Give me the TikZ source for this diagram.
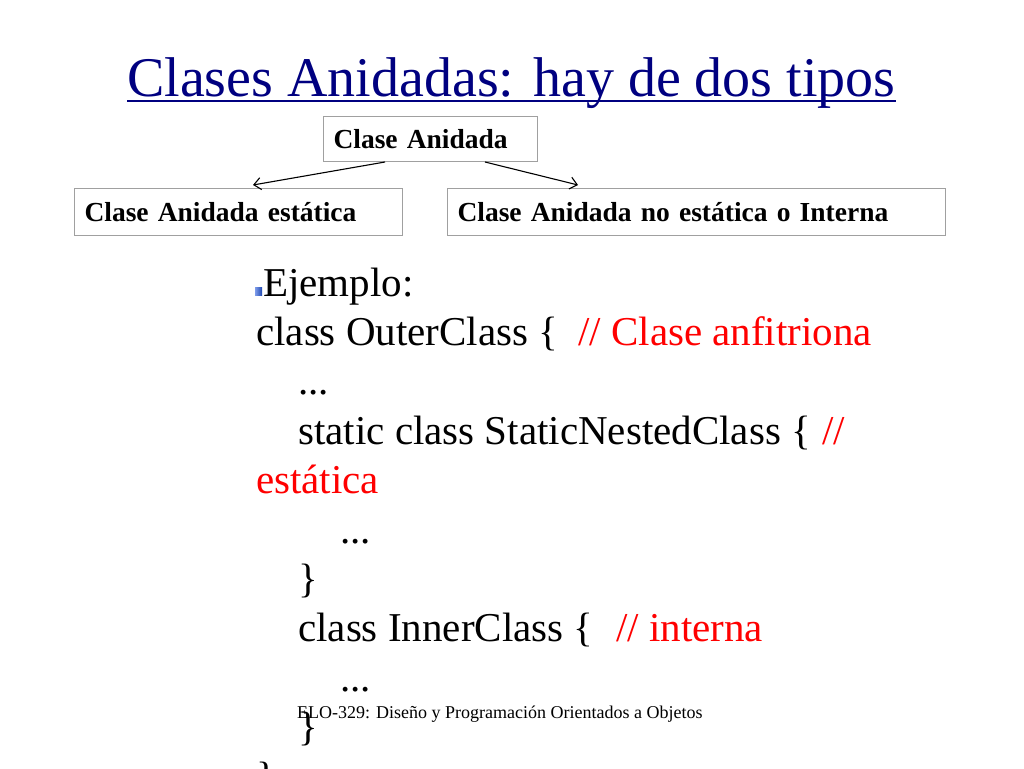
\documentclass[tikz,border=0pt]{standalone}
\usepackage{fontspec}
\setmainfont{Liberation Serif}
\usetikzlibrary{arrows.meta}
\definecolor{titleblue}{RGB}{0,0,128}
\definecolor{boxgray}{RGB}{160,160,160}
\definecolor{codered}{RGB}{255,0,0}
\definecolor{bulletblue}{RGB}{40,90,220}
\begin{document}
\begin{tikzpicture}[x=1pt,y=-1pt,
  box/.style={draw=boxgray,line width=1pt,rectangle,anchor=north west,inner xsep=10pt,inner ysep=0pt,align=left,font=\fontsize{27.5}{32}\selectfont\bfseries},
  code/.style={anchor=base west,inner sep=0pt,font=\fontsize{41}{50}\selectfont},
  red/.style={code,text=codered},
  link/.style={-{Straight Barb[length=7pt,width=12pt]},line width=1.1pt}]
\useasboundingbox (0,0) rectangle (1024,768);
\clip (0,0) rectangle (1024,768);
% title
\node[anchor=base west,inner sep=0pt,text=titleblue,font=\fontsize{56}{60}\selectfont] (title) at (127,96) {Clases Anidadas: hay de dos tipos};
\draw[titleblue,line width=2.6pt] ([yshift=-5pt]title.base west) -- ([yshift=-5pt]title.base east);
% boxes
\node[box,text width=194pt,minimum height=45pt] (top) at (323,116) {Clase Anidada};
\node[box,text width=308pt,minimum height=47pt] (left) at (74,188) {Clase Anidada estática};
\node[box,text width=478pt,minimum height=47pt] (right) at (447,188) {Clase Anidada no estática o Interna};
\coordinate (s1) at (385,162);
\coordinate (e1) at (253,185);
\coordinate (s2) at (485,162);
\coordinate (e2) at (578,185);
\draw[link] (s1) -- (e1);
\draw[link] (s2) -- (e2);
% bullet
\shade[left color=bulletblue!60!white,right color=bulletblue!80!black] (255,287) rectangle (262,295);
% code
\node[code] (l1) at (263,296) {Ejemplo:};
\node[code] (l2) at (256,345.4) {class OuterClass \{};
\node[red] (l2r) at (578,345.4) {// Clase anfitriona};
\node[code] (l3) at (298,394.8) {...};
\node[code] (l4) at (298,444.2) {static class StaticNestedClass \{};
\node[red] (l4r) at (822,444.2) {//};
\node[red] (l5) at (256,493.6) {estática};
\node[code] (l6) at (340,543) {...};
\node[code] (l7) at (298,592.4) {\}};
\node[code] (l8) at (298,641.8) {class InnerClass \{};
\node[red] (l8r) at (616,641.8) {// interna};
\node[code] (l9) at (340,691.2) {...};
\node[code] (l10) at (298,740.6) {\}};
\node[code] (l11) at (256,790) {\}};
% footer
\node[anchor=base west,inner sep=0pt,font=\fontsize{18}{20}\selectfont] (foot) at (297,718) {ELO-329: Diseño y Programación Orientados a Objetos};
\end{tikzpicture}
\end{document}
